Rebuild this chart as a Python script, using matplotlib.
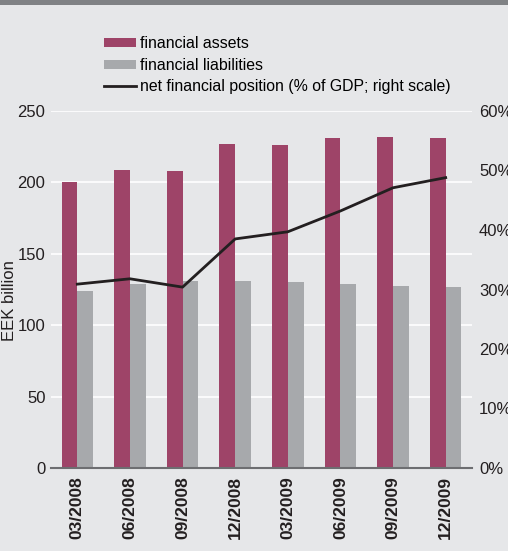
import matplotlib.pyplot as plt
from matplotlib.patches import Rectangle
import numpy as np

plt.rcParams['font.family'] = ['Liberation Sans', 'DejaVu Sans']

quarters = ['03/2008', '06/2008', '09/2008', '12/2008', '03/2009', '06/2009', '09/2009', '12/2009']
assets = [200, 209, 208, 227, 226, 231, 232, 231]
liabilities = [124, 129, 131, 131, 130, 129, 127.5, 127]
net_position = [30.9, 31.8, 30.4, 38.5, 39.7, 43.2, 47.1, 48.8]

bg = '#e6e7e9'
c_assets = '#9e4468'
c_liab = '#a7a9ac'
c_line = '#231f20'

fig = plt.figure(figsize=(5.08, 5.51), dpi=100, facecolor=bg)
fig.patches.append(Rectangle((0, 1 - 5 / 551), 1, 5 / 551, transform=fig.transFigure,
                             facecolor='#808285', edgecolor='none'))

ax = fig.add_axes([51 / 508, 83 / 551, 421 / 508, 357 / 551])
ax.set_facecolor(bg)
x = np.arange(len(quarters))
w = 0.3
b1 = ax.bar(x - w / 2, assets, w, color=c_assets, label='financial assets', zorder=2)
b2 = ax.bar(x + w / 2, liabilities, w, color=c_liab, label='financial liabilities', zorder=2)
ax.set_xlim(-0.5, 7.5)
ax.set_ylim(0, 250)
ax.set_yticks([0, 50, 100, 150, 200, 250])
ax.grid(axis='y', color='white', lw=1.2, zorder=0)
ax.set_axisbelow(True)
for s in ['top', 'left', 'right']:
    ax.spines[s].set_visible(False)
ax.spines['bottom'].set_color('#6d6e71')
ax.spines['bottom'].set_linewidth(1.5)
ax.set_xticks(x)
ax.set_xticklabels(quarters, rotation=90, fontweight='bold', fontsize=12.5, color='#231f20')
ax.tick_params(axis='x', length=0, pad=6)
ax.tick_params(axis='y', length=0, labelsize=12, labelcolor='#231f20', pad=4)
ax.set_ylabel('EEK billion', fontsize=12, color='#231f20')
ax.yaxis.set_label_coords(-0.08, 0.47)

ax2 = ax.twinx()
l1, = ax2.plot(x, net_position, color=c_line, lw=2, label='net financial position (% of GDP; right scale)', zorder=3)
ax2.set_ylim(0, 60)
ax2.set_yticks([0, 10, 20, 30, 40, 50, 60])
ax2.set_yticklabels(['0%', '10%', '20%', '30%', '40%', '50%', '60%'])
ax2.tick_params(axis='y', length=0, labelsize=12, labelcolor='#231f20', pad=5)
for s in ['top', 'left', 'right', 'bottom']:
    ax2.spines[s].set_visible(False)

fig.legend([b1, b2, l1], [b1.get_label(), b2.get_label(), l1.get_label()],
           loc='upper left', bbox_to_anchor=(104 / 508, 1 - 36 / 551), frameon=False,
           fontsize=11.4, handlelength=2.0, handleheight=0.5, handletextpad=0.25,
           labelspacing=0.42, borderpad=0, borderaxespad=0)

fig.savefig('out.png', dpi=100, facecolor=bg)
